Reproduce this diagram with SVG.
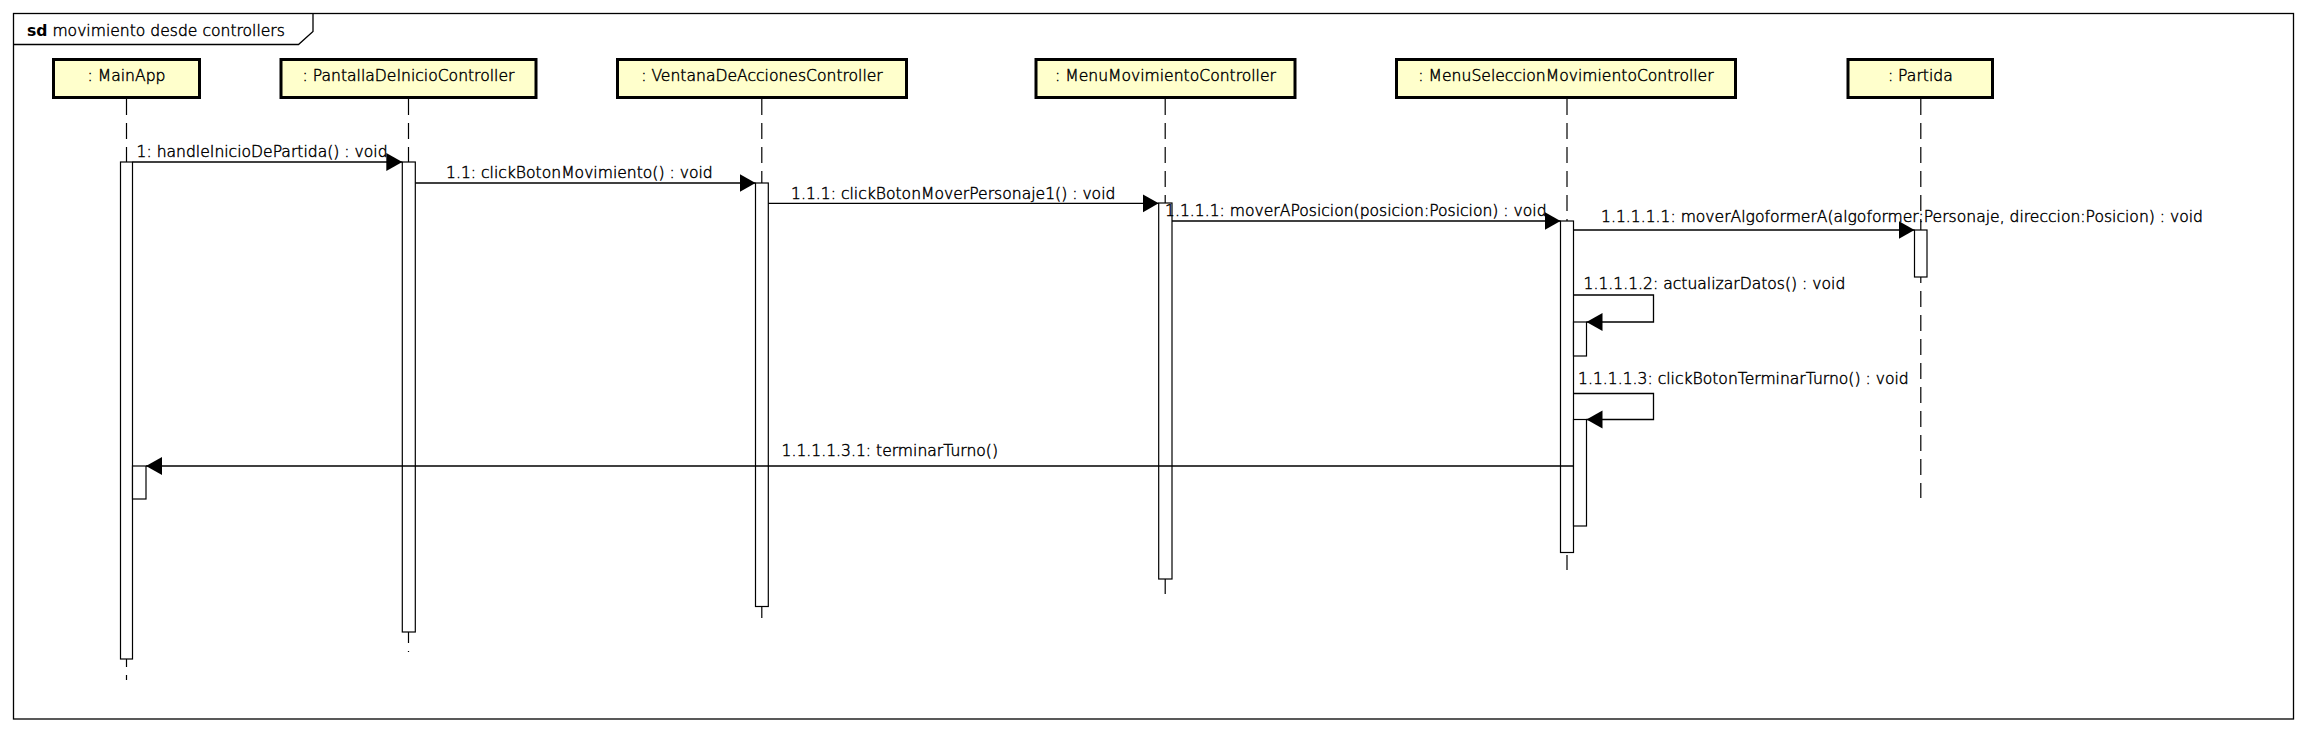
<svg xmlns="http://www.w3.org/2000/svg" width="2308" height="733" viewBox="0 0 2308 733">
<style>
text{font-family:"DejaVu Sans","Liberation Sans",sans-serif;font-size:15.6px;font-weight:200;fill:#000;stroke:#000;stroke-width:0.45px}
.box{fill:#ffffcc;stroke:#000;stroke-width:3}
.life{stroke:#000;stroke-width:1.2;stroke-dasharray:16,8;fill:none}
.bar{fill:#fff;stroke:#000;stroke-width:1.2}
.msg{stroke:#000;stroke-width:1.3;fill:none;marker-end:url(#ah)}
.c{text-anchor:middle}
</style>
<defs>
<marker id="ah" markerUnits="userSpaceOnUse" markerWidth="17" markerHeight="19" refX="16" refY="9" orient="auto" viewBox="0 0 17 19">
<path d="M0,0 L16,9 L0,18 z" fill="#000"/>
</marker>
</defs>
<rect width="2308" height="733" fill="#fff"/>
<g id="frame">
<rect x="13.5" y="13.5" width="2280" height="705.5" fill="none" stroke="#000" stroke-width="1.3"/>
<path d="M13.5,44.5 H298.5 L313,31.5 V13.5" fill="none" stroke="#000" stroke-width="1.3"/>
<text x="27" y="36"><tspan font-weight="bold" stroke-width="0">sd</tspan> movimiento desde controllers</text>
</g>
<g id="lifelines">
<line class="life" x1="126.5" y1="99" x2="126.5" y2="680"/>
<line class="life" x1="408.5" y1="99" x2="408.5" y2="652"/>
<line class="life" x1="761.8" y1="99" x2="761.8" y2="618"/>
<line class="life" x1="1165.2" y1="99" x2="1165.2" y2="594"/>
<line class="life" x1="1567" y1="99" x2="1567" y2="570"/>
<line class="life" x1="1920.8" y1="99" x2="1920.8" y2="498"/>
</g>
<g id="n-mainapp">
<rect class="box" x="53.5" y="59.5" width="146" height="38"/>
<text class="c" x="126.5" y="81">: MainApp</text>
<rect class="bar" x="120.5" y="162" width="12" height="497"/>
<rect class="bar" x="132.5" y="466" width="13.5" height="33"/>
</g>
<g id="n-pantalla">
<rect class="box" x="281" y="59.5" width="255" height="38"/>
<text class="c" x="408.5" y="81">: PantallaDeInicioController</text>
<rect class="bar" x="402.3" y="162" width="13" height="470"/>
</g>
<g id="n-ventana">
<rect class="box" x="617.5" y="59.5" width="289" height="38"/>
<text class="c" x="762" y="81">: VentanaDeAccionesController</text>
<rect class="bar" x="755.5" y="183" width="12.8" height="423.5"/>
</g>
<g id="n-menumov">
<rect class="box" x="1036" y="59.5" width="259" height="38"/>
<text class="c" x="1165.5" y="81">: MenuMovimientoController</text>
<rect class="bar" x="1158.7" y="203" width="13.3" height="376"/>
</g>
<g id="n-menusel">
<rect class="box" x="1396.5" y="59.5" width="339" height="38"/>
<text class="c" x="1566" y="81">: MenuSeleccionMovimientoController</text>
<rect class="bar" x="1560.5" y="221" width="13" height="331.5"/>
<rect class="bar" x="1573.5" y="322" width="13" height="34"/>
<rect class="bar" x="1573.5" y="419.5" width="13" height="106.5"/>
</g>
<g id="n-partida">
<rect class="box" x="1848" y="59.5" width="144.5" height="38"/>
<text class="c" x="1920.3" y="81">: Partida</text>
<rect class="bar" x="1914.5" y="230" width="12.5" height="47"/>
</g>
<g id="connectors">
<line class="msg" x1="132.5" y1="162" x2="402.3" y2="162"/>
<line class="msg" x1="415.3" y1="183" x2="755.5" y2="183"/>
<line class="msg" x1="768.3" y1="203.3" x2="1158.7" y2="203.3"/>
<line class="msg" x1="1172" y1="221" x2="1560.5" y2="221"/>
<line class="msg" x1="1573.5" y1="230" x2="1914.5" y2="230"/>
<path class="msg" d="M1573.5,295 H1653.5 V322 H1586.5"/>
<path class="msg" d="M1573.5,393.5 H1653.5 V419.5 H1586.5"/>
<line class="msg" x1="1573.5" y1="466" x2="146" y2="466"/>
</g>
<g id="labels">
<text x="136.5" y="157">1: handleInicioDePartida() : void</text>
<text x="446" y="178">1.1: clickBotonMovimiento() : void</text>
<text x="791" y="199">1.1.1: clickBotonMoverPersonaje1() : void</text>
<text x="1165" y="216">1.1.1.1: moverAPosicion(posicion:Posicion) : void</text>
<text x="1601" y="221.5">1.1.1.1.1: moverAlgoformerA(algoformer:Personaje, direccion:Posicion) : void</text>
<text x="1583.5" y="288.5">1.1.1.1.2: actualizarDatos() : void</text>
<text x="1578" y="383.5">1.1.1.1.3: clickBotonTerminarTurno() : void</text>
<text x="781.5" y="455.5">1.1.1.1.3.1: terminarTurno()</text>
</g>
</svg>
